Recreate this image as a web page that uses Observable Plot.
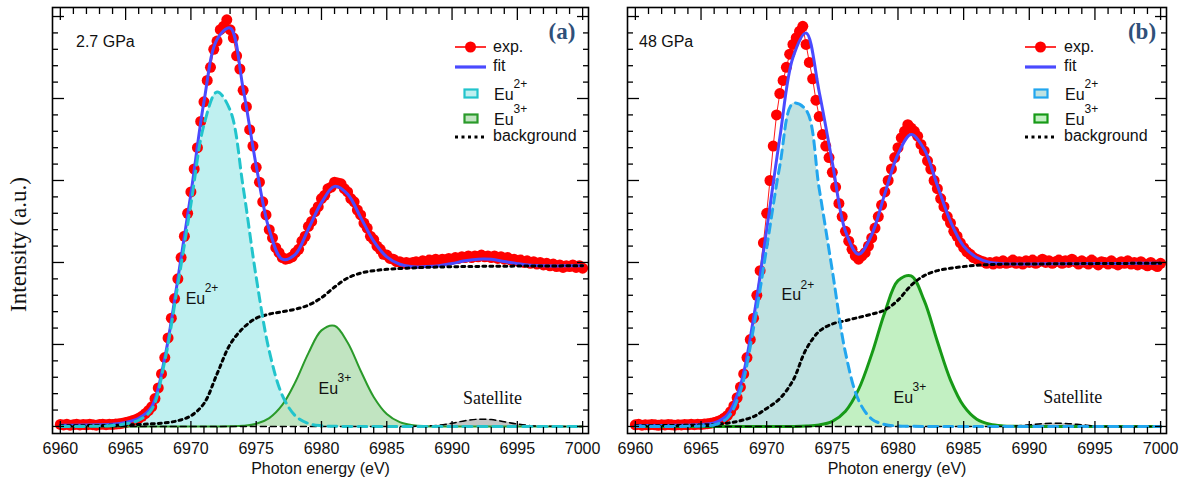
<!DOCTYPE html>
<html><head><meta charset="utf-8">
<script src="https://cdn.jsdelivr.net/npm/d3@7"></script>
<script src="https://cdn.jsdelivr.net/npm/@observablehq/plot@0.6"></script>
<style>
body{margin:0;background:#fff;}
#wrap{position:relative;width:1187px;height:486px;overflow:hidden;background:#fff;}
#wrap svg{position:absolute;top:0;}
</style></head><body><div id="wrap"></div>
<script>
// ---------- data ----------
const energy = [6960,6961,6962,6963,6964,6965,6966,6967,6968,6969,6970,6971,6972,6973,6974,6975,6976,6977,6978,6979,6980,6981,6982,6983,6984,6985,6986,6987,6988,6989,6990,6991,6992,6993,6994,6995,6996,6997,6998,6999,7000];
const expEnergy = [
6960,6960.25,6960.5,6960.75,6961,6961.25,6961.5,6961.75,6962,6962.25,6962.5,6962.75,6963,6963.25,6963.5,6963.75,
6964,6964.25,6964.5,6964.75,6965,6965.25,6965.5,6965.75,6966,6966.25,6966.5,6966.75,6967,6967.25,6967.5,6967.75,
6968,6968.25,6968.5,6968.75,6969,6969.25,6969.5,6969.75,6970,6970.25,6970.5,6970.75,6971,6971.25,6971.5,6971.75,
6972,6972.25,6972.5,6972.75,6973,6973.25,6973.5,6973.75,6974,6974.25,6974.5,6974.75,6975,6975.25,6975.5,6975.75,
6976,6976.25,6976.5,6976.75,6977,6977.25,6977.5,6977.75,6978,6978.25,6978.5,6978.75,6979,6979.25,6979.5,6979.75,
6980,6980.25,6980.5,6980.75,6981,6981.25,6981.5,6981.75,6982,6982.25,6982.5,6982.75,6983,6983.25,6983.5,6983.75,
6984,6984.25,6984.5,6984.75,6985,6985.25,6985.5,6985.75,6986,6986.25,6986.5,6986.75,6987,6987.25,6987.5,6987.75,
6988,6988.25,6988.5,6988.75,6989,6989.25,6989.5,6989.75,6990,6990.25,6990.5,6990.75,6991,6991.25,6991.5,6991.75,
6992,6992.25,6992.5,6992.75,6993,6993.25,6993.5,6993.75,6994,6994.25,6994.5,6994.75,6995,6995.25,6995.5,6995.75,
6996,6996.25,6996.5,6996.75,6997,6997.25,6997.5,6997.75,6998,6998.25,6998.5,6998.75,6999,6999.25,6999.5,6999.75,7000];

// panel (a) 2.7 GPa
const expA = [
0.012,0.009,0.013,0.008, 0.011,0.014,0.009,0.012, 0.010,0.013,0.011,0.008, 0.012,0.014,0.011,0.013,
0.012,0.015,0.016,0.020, 0.024,0.029,0.034,0.041, 0.050,0.062,0.078,0.097, 0.12,0.17,0.235,0.32,
0.42,0.54,0.66,0.78, 0.90,1.03,1.16,1.30, 1.43,1.57,1.70,1.86, 1.98,2.11,2.19,2.30,
2.35,2.42,2.44,2.48, 2.42,2.37,2.26,2.18, 2.05,1.95,1.81,1.71, 1.58,1.49,1.37,1.29,
1.20,1.15,1.09,1.06, 1.03,1.02,1.025,1.035, 1.06,1.08,1.13,1.16, 1.22,1.25,1.31,1.34,
1.39,1.41,1.45,1.46, 1.49,1.485,1.48,1.45, 1.43,1.39,1.37,1.32, 1.29,1.24,1.21,1.16,
1.14,1.10,1.08,1.05, 1.045,1.025,1.02,1.005, 1.005,0.995,1.00,0.995, 1.00,1.005,0.995,1.01,
1.00,1.015,1.005,1.02, 1.01,1.02,1.015,1.025, 1.02,1.03,1.025,1.035, 1.03,1.04,1.03,1.04,
1.035,1.045,1.035,1.04, 1.03,1.04,1.025,1.035, 1.02,1.03,1.015,1.02, 1.01,1.015,1.0,1.01,
0.995,1.005,0.99,1.0, 0.985,0.995,0.98,0.99, 0.975,0.985,0.97,0.98, 0.975,0.985,0.97,0.98, 0.965];
const fitA = [0.008,0.008,0.009,0.01,0.013,0.025,0.05,0.12,0.42,0.90,1.42,1.98,2.36,2.43,2.06,1.59,1.20,1.02,1.05,1.205,1.365,1.464,1.417,1.275,1.13,1.034,0.989,0.974,0.975,0.98,0.994,1.01,1.02,1.019,1.006,0.993,0.983,0.98,0.979,0.98,0.98];
const eu2A = [0,0,0.0005,0.002,0.006,0.016,0.038,0.104,0.40,0.865,1.355,1.84,2.04,1.93,1.46,0.91,0.46,0.19,0.065,0.018,0.004,0.001,0,0,0,0,0,0,0,0,0,0,0,0,0,0,0,0,0,0,0];
const eu3A = [0,0,0,0,0,0,0,0,0,0,0,0,0,0.001,0.004,0.016,0.051,0.131,0.271,0.447,0.586,0.614,0.512,0.34,0.18,0.076,0.026,0.007,0.0015,0,0,0,0,0,0,0,0,0,0,0,0];
const bkgA = [0.004,0.004,0.005,0.006,0.007,0.009,0.012,0.016,0.022,0.035,0.065,0.14,0.32,0.50,0.60,0.66,0.685,0.70,0.715,0.74,0.785,0.85,0.905,0.935,0.95,0.958,0.963,0.967,0.97,0.972,0.974,0.975,0.976,0.977,0.977,0.978,0.978,0.979,0.979,0.98,0.98];
const satA = [0,0,0,0,0,0,0,0,0,0,0,0,0,0,0,0,0,0,0,0,0,0,0,0,0,0,0,0,0.003,0.008,0.02,0.035,0.044,0.042,0.029,0.015,0.005,0.0015,0,0,0];

// panel (b) 48 GPa
const expB = [
0.010,0.013,0.008,0.011, 0.009,0.012,0.010,0.007, 0.011,0.009,0.012,0.010, 0.008,0.011,0.009,0.012,
0.010,0.013,0.011,0.014, 0.012,0.015,0.017,0.020, 0.024,0.030,0.038,0.050, 0.066,0.090,0.125,0.175,
0.24,0.32,0.42,0.53, 0.66,0.80,0.95,1.12, 1.30,1.50,1.71,1.90, 2.03,2.11,2.19,2.27,
2.33,2.37,2.41,2.44, 2.33,2.22,2.12,1.99, 1.89,1.78,1.71,1.64, 1.55,1.46,1.36,1.28,
1.19,1.13,1.08,1.04, 1.02,1.04,1.06,1.10, 1.15,1.21,1.28,1.35, 1.43,1.50,1.57,1.64,
1.70,1.76,1.80,1.84, 1.82,1.80,1.77,1.72, 1.68,1.62,1.57,1.50, 1.45,1.39,1.34,1.28,
1.24,1.19,1.16,1.12, 1.09,1.065,1.05,1.03, 1.02,1.01,1.005,0.995, 1.00,0.99,1.005,0.995,
1.01,0.995,1.00,1.015, 0.995,1.005,0.99,1.01, 1.00,1.015,0.995,1.005, 1.02,1.00,1.01,0.995,
1.005,1.015,0.995,1.01, 1.00,1.02,1.005,0.99, 1.01,1.00,0.99,1.015, 1.00,0.985,1.005,1.00,
0.99,1.01,0.995,0.985, 1.005,0.995,1.01,0.99, 1.0,0.985,1.005,0.99, 0.98,1.0,0.985,0.975, 0.995];
const fitB = [0.006,0.006,0.006,0.007,0.008,0.012,0.022,0.07,0.25,0.66,1.20,1.76,2.25,2.40,2.04,1.61,1.19,1.05,1.17,1.42,1.66,1.78,1.69,1.47,1.25,1.10,1.03,1.00,0.993,0.991,0.991,0.992,0.992,0.993,0.993,0.994,0.994,0.994,0.995,0.995,0.995];
const eu2B = [0,0,0,0,0.001,0.003,0.01,0.05,0.215,0.60,1.09,1.59,1.97,1.93,1.45,0.95,0.45,0.16,0.045,0.012,0.003,0.001,0,0,0,0,0,0,0,0,0,0,0,0,0,0,0,0,0,0,0];
const eu3B = [0,0,0,0,0,0,0,0,0,0,0,0,0,0.002,0.009,0.031,0.093,0.226,0.441,0.697,0.889,0.918,0.767,0.518,0.283,0.125,0.044,0.013,0.003,0.001,0,0,0,0,0,0,0,0,0,0,0];
const bkgB = [0.005,0.005,0.005,0.006,0.007,0.009,0.012,0.02,0.035,0.06,0.11,0.17,0.28,0.47,0.58,0.625,0.645,0.665,0.685,0.71,0.77,0.86,0.92,0.95,0.965,0.975,0.983,0.987,0.99,0.99,0.991,0.991,0.992,0.992,0.993,0.993,0.994,0.994,0.995,0.995,0.995];
const satB = [0,0,0,0,0,0,0,0,0,0,0,0,0,0,0,0,0,0,0,0,0,0,0,0,0,0,0,0,0,0.003,0.01,0.017,0.02,0.017,0.01,0.003,0,0,0,0,0];

// tick labels
const xTicks = [6960,6965,6970,6975,6980,6985,6990,6995,7000];
const yMajorTicks = [0,0.5,1,1.5,2,2.5];

// ---------- drawing ----------
const xMinor = d3.range(6960, 7001).filter(d => d % 5 !== 0);
const yMinor = d3.range(0, 26).filter(i => i % 5 !== 0).map(i => i / 10);
const SANS = "'Liberation Sans', Arial, Helvetica, sans-serif";
const SERIF = "'Liberation Serif', 'Times New Roman', serif";
const CURVE = "catmull-rom";

function ticks() {
  const blank = () => "";
  const common = {stroke: "#000", strokeWidth: 1.3, label: null};
  return [
    Plot.axisX(xTicks, {anchor: "bottom", tickSize: -12, tickFormat: blank, ...common}),
    Plot.axisX(xMinor, {anchor: "bottom", tickSize: -6, tickFormat: blank, ...common}),
    Plot.axisX(xTicks, {anchor: "top", tickSize: -12, tickFormat: blank, ...common}),
    Plot.axisX(xMinor, {anchor: "top", tickSize: -6, tickFormat: blank, ...common}),
    Plot.axisY(yMajorTicks, {anchor: "left", tickSize: -12, tickFormat: blank, ...common}),
    Plot.axisY(yMinor, {anchor: "left", tickSize: -6, tickFormat: blank, ...common}),
    Plot.axisY(yMajorTicks, {anchor: "right", tickSize: -12, tickFormat: blank, ...common}),
    Plot.axisY(yMinor, {anchor: "right", tickSize: -6, tickFormat: blank, ...common}),
    Plot.axisX(xTicks, {anchor: "bottom", tickSize: 0, tickPadding: 9, label: null, fontSize: 16, fill: "#111", tickFormat: d => String(d)})
  ];
}

function panel(p) {
  const rows = energy.map((e, i) => ({e, fit: p.fit[i], eu2: p.eu2[i], eu3: p.eu3[i], bkg: p.bkg[i], sat: p.sat[i]}));
  const pts = expEnergy.map((e, i) => ({e, v: p.exp[i]}));
  const c = p.colors;
  const marks = [
    Plot.areaY(rows, {x: "e", y: "eu2", fill: c.eu2Fill, curve: CURVE}),
    Plot.areaY(rows, {x: "e", y: "eu3", fill: c.eu3Fill, curve: CURVE}),
    Plot.areaY(rows, {x: "e", y: "sat", fill: "#c4c4c4", curve: CURVE}),
    Plot.line(pts, {x: "e", y: "v", stroke: "#ff1a1a", strokeWidth: 1}),
    Plot.dot(pts, {x: "e", y: "v", r: 5.5, fill: "#ff0000"}),
    Plot.line(rows, {x: "e", y: "fit", stroke: "#4a4aff", strokeWidth: 3, curve: CURVE}),
    Plot.line(rows, {x: "e", y: "eu3", stroke: c.eu3Line, strokeWidth: c.eu3Width, curve: CURVE}),
    Plot.line(rows, {x: "e", y: "sat", stroke: "#000", strokeWidth: 1.5, strokeDasharray: "6,4", curve: CURVE}),
    Plot.line(rows, {x: "e", y: "bkg", stroke: "#000", strokeWidth: 3, strokeDasharray: "3,4", curve: CURVE}),
    Plot.line(rows, {x: "e", y: "eu2", stroke: c.eu2Line, strokeWidth: 3, strokeDasharray: "9,6", curve: CURVE}),
    // annotations
    Plot.text(["Eu"], {x: p.ann.eu2[0], y: p.ann.eu2[1], textAnchor: "start", fontSize: 16, fill: "#111"}),
    Plot.text(["2+"], {x: p.ann.eu2[0], y: p.ann.eu2[1], textAnchor: "start", dx: 19, dy: -10, fontSize: 12, fill: "#111"}),
    Plot.text(["Eu"], {x: p.ann.eu3[0], y: p.ann.eu3[1], textAnchor: "start", fontSize: 16, fill: "#111"}),
    Plot.text(["3+"], {x: p.ann.eu3[0], y: p.ann.eu3[1], textAnchor: "start", dx: 19, dy: -10, fontSize: 12, fill: "#111"}),
    Plot.text(["Satellite"], {x: p.ann.sat[0], y: p.ann.sat[1], fontSize: 18, fontFamily: SERIF, fill: "#111"}),
    Plot.text(["Photon energy (eV)"], {frameAnchor: "bottom", lineAnchor: "middle", dy: 35, fontSize: 16, fill: "#111"}),
    ...ticks(),
    Plot.frame({stroke: "#000", strokeWidth: 1.6})
  ];
  if (p.yTitle) marks.push(Plot.text([p.yTitle], {frameAnchor: "left", textAnchor: "middle", lineAnchor: "middle", dx: -34, dy: 24, rotate: -90, fontSize: 23, fontFamily: SERIF, fill: "#111"}));
  const svg = Plot.plot({
    width: p.width, height: 486,
    marginTop: 7, marginBottom: 53, marginLeft: p.marginLeft, marginRight: p.marginRight,
    x: {domain: [6959.4, 7000.45]},
    y: {domain: [-0.043, 2.555]},
    style: {fontFamily: SANS, fontSize: "16px", color: "#111", background: "transparent", overflow: "visible"},
    marks
  });
  svg.style.left = p.left + "px";
  return svg;
}

const colorsA = {eu2Fill: "#bff0f0", eu2Line: "#22c4cc", eu3Fill: "#c1e4c1", eu3Line: "#2a9a2a", eu3Width: 2};
const colorsB = {eu2Fill: "#bfe2e1", eu2Line: "#22a6ee", eu3Fill: "#c2f0c2", eu3Line: "#179a17", eu3Width: 3};

const wrap = document.getElementById("wrap");
wrap.append(panel({
  exp: expA, fit: fitA, eu2: eu2A, eu3: eu3A, bkg: bkgA, sat: satA, colors: colorsA,
  width: 600, left: 0, marginLeft: 52, marginRight: 12, yTitle: "Intensity (a.u.)",
  ann: {eu2: [6969.6, 0.78], eu3: [6979.77, 0.232], sat: [6993.1, 0.174]}
}));
wrap.append(panel({
  exp: expB, fit: fitB, eu2: eu2B, eu3: eu3B, bkg: bkgB, sat: satB, colors: colorsB,
  width: 587, left: 600, marginLeft: 27, marginRight: 21, yTitle: null,
  ann: {eu2: [6971.13, 0.80], eu3: [6979.66, 0.177], sat: [6993.3, 0.177]}
}));

// ---------- overlay: pressure labels, panel letters, legends ----------
const ov = d3.select(wrap).append("svg").attr("width", 1187).attr("height", 486)
  .style("left", "0px").style("pointer-events", "none")
  .attr("font-family", SANS).attr("font-size", 16).attr("fill", "#111");

function legend(lx, tx, c, pressure, px, letter, letterX) {
  const g = ov.append("g");
  g.append("text").attr("x", px).attr("y", 47).text(pressure);
  g.append("text").attr("x", letterX).attr("y", 39).attr("text-anchor", "middle")
    .attr("font-family", SERIF).attr("font-weight", "bold").attr("font-size", 23).attr("fill", "#2f5079").text(letter);
  // exp.
  g.append("line").attr("x1", lx).attr("x2", lx + 31).attr("y1", 47).attr("y2", 47).attr("stroke", "#ff0000").attr("stroke-width", 1.6);
  g.append("circle").attr("cx", lx + 15.5).attr("cy", 47).attr("r", 5.5).attr("fill", "#ff0000");
  g.append("text").attr("x", tx).attr("y", 52).text("exp.");
  // fit
  g.append("line").attr("x1", lx).attr("x2", lx + 31).attr("y1", 67).attr("y2", 67).attr("stroke", "#4a4aff").attr("stroke-width", 3.2);
  g.append("text").attr("x", tx).attr("y", 71).text("fit");
  // Eu2+
  g.append("rect").attr("x", lx + 9.5).attr("y", 89.5).attr("width", 13).attr("height", 8).attr("fill", c.eu2Fill).attr("stroke", c.eu2Line).attr("stroke-width", 2.2);
  const t2 = g.append("text").attr("x", tx + 1).attr("y", 100);
  t2.append("tspan").text("Eu");
  t2.append("tspan").attr("dy", -12).attr("font-size", 12).text("2+");
  // Eu3+
  g.append("rect").attr("x", lx + 9.5).attr("y", 114.5).attr("width", 13).attr("height", 8).attr("fill", c.eu3Fill).attr("stroke", c.eu3Line).attr("stroke-width", 2.2);
  const t3 = g.append("text").attr("x", tx + 1).attr("y", 125);
  t3.append("tspan").text("Eu");
  t3.append("tspan").attr("dy", -12).attr("font-size", 12).text("3+");
  // background
  g.append("line").attr("x1", lx).attr("x2", lx + 31).attr("y1", 137).attr("y2", 137).attr("stroke", "#000").attr("stroke-width", 3).attr("stroke-dasharray", "3,3.5");
  g.append("text").attr("x", tx).attr("y", 141).text("background");
}
legend(455, 493, colorsA, "2.7 GPa", 76, "(a)", 562);
legend(1025, 1064, colorsB, "48 GPa", 639, "(b)", 1142);
</script></body></html>
